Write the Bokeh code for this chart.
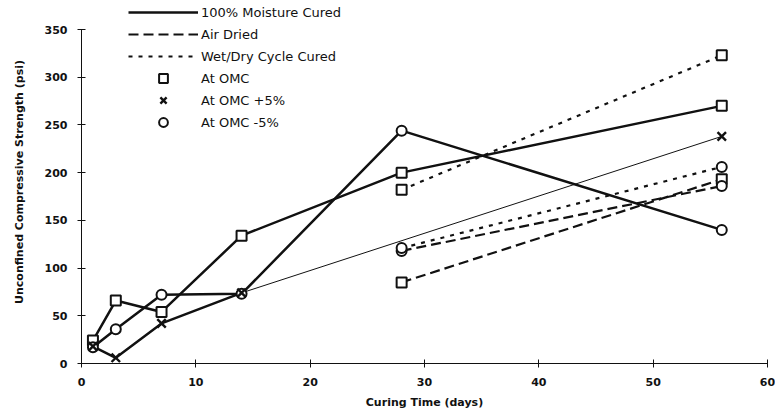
from bokeh.plotting import figure
from bokeh.models import Range1d, FixedTicker, Legend, LegendItem
from bokeh.embed import file_html
from bokeh.resources import INLINE

# ---- data ----
moist_days = [1, 3, 7, 14, 28, 56]
moist_omc = [24, 66, 54, 134, 200, 270]
moist_omc_m5 = [17, 36, 72, 73, 244, 140]
moist_p5_days = [1, 3, 7, 14, 56]
moist_omc_p5 = [18, 6, 42, 74, 238]

late_days = [28, 56]
air_omc = [85, 193]
air_omc_m5 = [118, 186]
wd_omc = [182, 323]
wd_omc_m5 = [121, 206]

x_ticks = [0, 10, 20, 30, 40, 50, 60]
y_ticks = [0, 50, 100, 150, 200, 250, 300, 350]

legend_lines = ["100% Moisture Cured", "Air Dried", "Wet/Dry Cycle Cured"]
legend_marks = ["At OMC", "At OMC +5%", "At OMC -5%"]

FONT = "DejaVu Sans"
BLACK = "#111111"

p = figure(width=775, height=417, output_backend="svg", toolbar_location=None,
           x_range=Range1d(0, 60), y_range=Range1d(0, 380.4),
           min_border_left=81, min_border_right=8, min_border_top=0,
           min_border_bottom=54)
p.outline_line_color = None
p.grid.visible = False
p.background_fill_color = "white"

for ax in (p.xaxis[0], p.yaxis[0]):
    ax.axis_line_color = BLACK
    ax.axis_line_width = 1
    ax.major_tick_line_color = BLACK
    ax.major_tick_in = 4
    ax.major_tick_out = 4
    ax.minor_tick_line_color = None
    ax.major_label_text_font = FONT
    ax.major_label_text_font_style = "bold"
    ax.major_label_text_font_size = "11px"
    ax.major_label_text_color = BLACK
    ax.axis_label_text_font = FONT
    ax.axis_label_text_font_style = "bold"
    ax.axis_label_text_font_size = "11px"
    ax.axis_label_text_color = BLACK

p.xaxis.ticker = FixedTicker(ticks=x_ticks)
p.yaxis.ticker = FixedTicker(ticks=y_ticks)
p.xaxis.bounds = (0, 60)
p.yaxis.bounds = (0, 350)
p.xaxis.axis_label = "Curing Time (days)"
p.yaxis.axis_label = "Unconfined Compressive Strength (psi)"
p.xaxis.major_label_standoff = 10
p.xaxis.axis_label_standoff = 7
p.yaxis.major_label_standoff = 10
p.yaxis.axis_label_standoff = 16

LW = 2.5

# 100% moisture cured
r_moist = p.line(moist_days, moist_omc, line_color=BLACK, line_width=LW)
p.line(moist_days, moist_omc_m5, line_color=BLACK, line_width=LW)
p.line(moist_p5_days[:4], moist_omc_p5[:4], line_color=BLACK, line_width=LW)
p.line(moist_p5_days[3:], moist_omc_p5[3:], line_color=BLACK, line_width=1)

# Air dried
r_air = p.line(late_days, air_omc, line_color=BLACK, line_width=2.2, line_dash="10 5")
p.line(late_days, air_omc_m5, line_color=BLACK, line_width=2.2, line_dash="10 5")

# Wet/dry
r_wd = p.line(late_days, wd_omc, line_color=BLACK, line_width=2.2, line_dash="4 6")
p.line(late_days, wd_omc_m5, line_color=BLACK, line_width=2.2, line_dash="4 6")

MS = 10
mk = dict(line_color=BLACK, fill_color="white", line_width=2, size=MS)
# squares: At OMC
r_sq = p.scatter(moist_days, moist_omc, marker="square", **mk)
p.scatter(late_days, air_omc, marker="square", **mk)
p.scatter(late_days, wd_omc, marker="square", **mk)
# circles: At OMC -5%
r_ci = p.scatter(moist_days, moist_omc_m5, marker="circle", **mk)
p.scatter(late_days, air_omc_m5, marker="circle", **mk)
p.scatter(late_days, wd_omc_m5, marker="circle", **mk)
# x: At OMC +5%
r_x = p.scatter(moist_p5_days, moist_omc_p5, marker="x", line_color=BLACK, line_width=2.4, size=12)

items = [LegendItem(label=lab, renderers=[r]) for lab, r in
         zip(legend_lines + legend_marks, [r_moist, r_air, r_wd, r_sq, r_x, r_ci])]
legend = Legend(items=items, location=(47, 230), glyph_width=70, glyph_height=22,
                label_height=22, spacing=0, padding=0, margin=0, label_standoff=3,
                border_line_alpha=0, background_fill_alpha=0,
                label_text_font=FONT, label_text_font_size="13px",
                label_text_color=BLACK)
p.add_layout(legend)

open("out.html", "w").write(file_html(p, INLINE))
